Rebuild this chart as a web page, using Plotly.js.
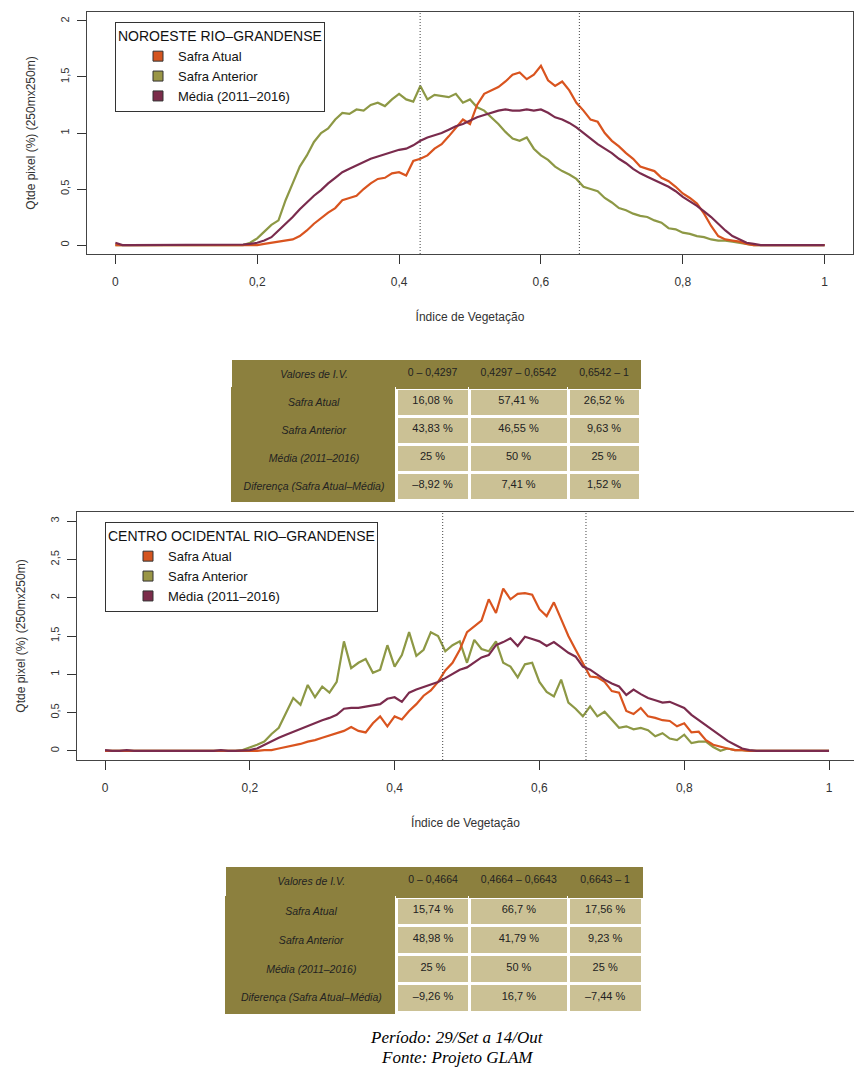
<!DOCTYPE html>
<html>
<head>
<meta charset="utf-8">
<script src="https://cdn.plot.ly/plotly-3.0.1.min.js"></script>
<style>html,body{margin:0;padding:0;background:#fff;}#chart{width:854px;height:1070px;}</style>
</head>
<body>
<div id="chart"></div>
<script>
// ---------- DATA ----------
// Vegetation index bins (0.00 .. 1.00, step 0.01)
const IV = [];
for (let i = 0; i <= 100; i++) IV.push(+(i / 100).toFixed(2));

const seriesNames = ['Safra Atual', 'Safra Anterior', 'Média (2011–2016)'];

// NOROESTE RIO-GRANDENSE
const nwAtual = [
  0,0,0,0,0,0,0,0,0,0,
  0,0,0,0,0,0,0,0,0,0,
  0,0.01,0.02,0.03,0.04,0.05,0.08,0.13,0.19,0.24,
  0.29,0.33,0.40,0.42,0.44,0.50,0.55,0.59,0.60,0.64,
  0.65,0.62,0.75,0.77,0.80,0.86,0.90,0.97,1.04,1.12,
  1.08,1.25,1.35,1.38,1.41,1.46,1.52,1.54,1.48,1.52,
  1.60,1.47,1.42,1.46,1.38,1.27,1.20,1.12,1.10,1.00,
  0.93,0.88,0.82,0.77,0.70,0.68,0.66,0.60,0.57,0.52,
  0.46,0.42,0.37,0.28,0.17,0.08,0.05,0.04,0.03,0.01,
  0,0,0,0,0,0,0,0,0,0,
  0];
const nwAnterior = [
  0,0,0,0,0,0,0,0,0,0,
  0,0,0,0,0,0,0,0,0,0.02,
  0.06,0.12,0.18,0.22,0.40,0.55,0.70,0.80,0.92,1.00,
  1.04,1.12,1.18,1.17,1.21,1.20,1.25,1.27,1.24,1.30,
  1.35,1.30,1.28,1.42,1.30,1.34,1.33,1.32,1.35,1.27,
  1.30,1.23,1.20,1.14,1.08,1.01,0.95,0.93,0.96,0.86,
  0.80,0.76,0.70,0.66,0.63,0.59,0.52,0.50,0.48,0.42,
  0.38,0.33,0.31,0.28,0.26,0.25,0.22,0.20,0.15,0.14,
  0.11,0.10,0.08,0.07,0.05,0.04,0.04,0.03,0.02,0.01,
  0,0,0,0,0,0,0,0,0,0,
  0];
const nwMedia = [
  0.02,0,0,0,0,0,0,0,0,0,
  0,0,0,0,0,0,0,0,0.005,0.01,
  0.02,0.04,0.07,0.13,0.19,0.25,0.32,0.38,0.44,0.49,
  0.55,0.60,0.65,0.68,0.71,0.74,0.77,0.79,0.81,0.83,
  0.85,0.86,0.89,0.93,0.96,0.98,1.00,1.03,1.06,1.08,
  1.11,1.14,1.16,1.18,1.20,1.21,1.20,1.20,1.21,1.20,
  1.21,1.18,1.14,1.12,1.09,1.05,1.00,0.95,0.90,0.86,
  0.82,0.77,0.73,0.68,0.64,0.61,0.58,0.55,0.52,0.48,
  0.43,0.39,0.35,0.30,0.25,0.19,0.13,0.08,0.05,0.02,
  0.01,0,0,0,0,0,0,0,0,0,
  0];
const nwCuts = [0.4297, 0.6542];

// CENTRO OCIDENTAL RIO-GRANDENSE
const coAtual = [
  0,0,0,0,0,0,0,0,0,0,
  0,0,0,0,0,0,0,0,0,0,
  0,0,0.01,0.01,0.03,0.05,0.07,0.09,0.12,0.14,
  0.17,0.20,0.23,0.26,0.31,0.26,0.24,0.36,0.45,0.32,
  0.45,0.41,0.52,0.61,0.72,0.79,0.90,1.05,1.15,1.32,
  1.55,1.62,1.70,1.98,1.80,2.12,1.98,2.05,2.06,2.04,
  1.85,1.76,1.94,1.72,1.50,1.32,1.15,0.97,0.96,0.90,
  0.78,0.76,0.52,0.48,0.56,0.45,0.43,0.40,0.39,0.32,
  0.36,0.24,0.25,0.14,0.08,0.05,0.03,0.01,0.01,0,
  0,0,0,0,0,0,0,0,0,0,
  0];
const coAnterior = [
  0,0,0,0,0,0,0,0,0,0,
  0,0,0,0,0,0,0,0,0,0.01,
  0.04,0.08,0.12,0.22,0.30,0.50,0.69,0.60,0.86,0.70,
  0.84,0.76,0.90,1.43,1.08,1.15,1.20,1.02,1.06,1.38,
  1.10,1.25,1.55,1.24,1.32,1.55,1.50,1.30,1.38,1.43,
  1.15,1.45,1.33,1.30,1.43,1.15,1.10,0.96,1.13,1.15,
  0.90,0.77,0.71,0.93,0.63,0.55,0.45,0.58,0.45,0.51,
  0.40,0.30,0.32,0.28,0.30,0.27,0.19,0.23,0.16,0.14,
  0.21,0.10,0.12,0.12,0.05,0.00,0.03,0.01,0.01,0,
  0,0,0,0,0,0,0,0,0,0,
  0];
const coMedia = [
  0.01,0,0,0.01,0,0,0,0,0,0,
  0,0,0,0,0,0,0.01,0,0,0.005,
  0.01,0.03,0.08,0.12,0.17,0.21,0.25,0.29,0.33,0.37,
  0.40,0.43,0.47,0.55,0.56,0.56,0.58,0.59,0.61,0.68,
  0.70,0.64,0.76,0.80,0.83,0.86,0.90,0.95,1.00,1.06,
  1.09,1.15,1.22,1.25,1.38,1.42,1.47,1.37,1.49,1.46,
  1.43,1.37,1.42,1.35,1.28,1.23,1.10,1.06,0.99,0.93,
  0.88,0.84,0.73,0.80,0.74,0.69,0.66,0.63,0.64,0.60,
  0.56,0.47,0.40,0.33,0.26,0.20,0.13,0.08,0.03,0.01,
  0,0,0,0,0,0,0,0,0,0,
  0];
const coCuts = [0.4664, 0.6643];

// Axis ticks
const xTickVals = [0, 0.2, 0.4, 0.6, 0.8, 1];
const xTickText = ['0', '0,2', '0,4', '0,6', '0,8', '1'];
const y1TickVals = [0, 0.5, 1, 1.5, 2];
const y1TickText = ['0', '0,5', '1', '1,5', '2'];
const y2TickVals = [0, 0.5, 1, 1.5, 2, 2.5, 3];
const y2TickText = ['0', '0,5', '1', '1,5', '2', '2,5', '3'];

// Tables
const tblHeaderLabel = 'Valores de I.V.';
const tblRowLabels = ['Safra Atual', 'Safra Anterior', 'Média (2011–2016)', 'Diferença (Safra Atual–Média)'];
const nwRanges = ['0 – 0,4297', '0,4297 – 0,6542', '0,6542 – 1'];
const nwAtualPct = [16.08, 57.41, 26.52];
const nwAnteriorPct = [43.83, 46.55, 9.63];
const nwMediaPct = [25, 50, 25];
const nwDifPct = [-8.92, 7.41, 1.52];
const coRanges = ['0 – 0,4664', '0,4664 – 0,6643', '0,6643 – 1'];
const coAtualPct = [15.74, 66.7, 17.56];
const coAnteriorPct = [48.98, 41.79, 9.23];
const coMediaPct = [25, 50, 25];
const coDifPct = [-9.26, 16.7, -7.44];

const footerLines = ['Período: 29/Set a 14/Out', 'Fonte: Projeto GLAM'];
const regionTitles = ['NOROESTE RIO–GRANDENSE', 'CENTRO OCIDENTAL RIO–GRANDENSE'];

// ---------- STYLE ----------
const C_ATUAL = '#D9541F';
const C_ANT = '#8D9845';
const C_MEDIA = '#7A2B4D';
const LEG_COLORS = ['#D4541F', '#9A9646', '#7B2C4A'];
const OLIVE = '#8C803E';
const BEIGE = '#CBC195';
const SANS = 'Liberation Sans, Arial, Helvetica, sans-serif';
const NARROW = 'Liberation Sans Narrow, Arial Narrow, Liberation Sans, Arial, sans-serif';
const W = 854, H = 1070;
const px = v => v / W;
const py = v => 1 - v / H;

// ---------- TRACES ----------
function lineTrace(y, color, xa, ya) {
  return { type: 'scatter', mode: 'lines', x: IV, y: y, xaxis: xa, yaxis: ya,
    line: { color: color, width: 2.2 }, showlegend: false, hoverinfo: 'skip' };
}
function legendTrace(name, color, xa, ya, leg) {
  return { type: 'scatter', mode: 'markers', x: [null], y: [null], xaxis: xa, yaxis: ya,
    name: name, legend: leg, showlegend: true,
    marker: { symbol: 'square', size: 10, color: color, line: { color: '#333', width: 1 } } };
}
const fmt = v => (v < 0 ? '–' : '') + String(Math.abs(v)).replace('.', ',') + ' %';

function tableTrace(domX, domY, ranges, rows, colW, hh, ch) {
  const labelCol = tblRowLabels.map(s => '<i>' + s + '</i>');
  const cols = [0, 1, 2].map(j => rows.map(r => fmt(r[j])));
  return {
    type: 'table', domain: { x: domX, y: domY }, columnwidth: colW,
    header: {
      values: [['<i>' + tblHeaderLabel + '</i>'], [ranges[0]], [ranges[1]], [ranges[2]]],
      fill: { color: OLIVE }, line: { color: OLIVE, width: 1 }, align: 'center', height: hh,
      font: { family: SANS, size: [10.5, 10.5, 10.5, 10.5], color: '#222' }
    },
    cells: {
      values: [labelCol].concat(cols),
      fill: { color: [OLIVE, BEIGE, BEIGE, BEIGE] },
      line: { color: [OLIVE, '#ffffff', '#ffffff', '#ffffff'], width: 3 },
      align: 'center', height: ch,
      font: { family: SANS, size: [10.5, 11, 11, 11], color: '#222' }
    }
  };
}

const data = [
  lineTrace(nwAnterior, C_ANT, 'x', 'y'),
  lineTrace(nwAtual, C_ATUAL, 'x', 'y'),
  lineTrace(nwMedia, C_MEDIA, 'x', 'y'),
  lineTrace(coAnterior, C_ANT, 'x2', 'y2'),
  lineTrace(coAtual, C_ATUAL, 'x2', 'y2'),
  lineTrace(coMedia, C_MEDIA, 'x2', 'y2'),
  legendTrace(seriesNames[0], LEG_COLORS[0], 'x', 'y', 'legend'),
  legendTrace(seriesNames[1], LEG_COLORS[1], 'x', 'y', 'legend'),
  legendTrace(seriesNames[2], LEG_COLORS[2], 'x', 'y', 'legend'),
  legendTrace(seriesNames[0], LEG_COLORS[0], 'x2', 'y2', 'legend2'),
  legendTrace(seriesNames[1], LEG_COLORS[1], 'x2', 'y2', 'legend2'),
  legendTrace(seriesNames[2], LEG_COLORS[2], 'x2', 'y2', 'legend2'),
  tableTrace([px(232), px(640)], [py(504), py(360)], nwRanges,
    [nwAtualPct, nwAnteriorPct, nwMediaPct, nwDifPct], [164, 73, 99, 72], 28, 28),
  tableTrace([px(226), px(643)], [py(1016), py(867)], coRanges,
    [coAtualPct, coAnteriorPct, coMediaPct, coDifPct], [169, 72, 98, 73], 30, 28.75)
];

// ---------- LAYOUT ----------
function xAxis(domain, range, anchor) {
  return { domain: domain, range: range, anchor: anchor, tickvals: xTickVals, ticktext: xTickText,
    ticks: 'outside', ticklen: 9, tickwidth: 1, tickcolor: '#333', showline: true, linecolor: '#444',
    linewidth: 1, mirror: true, showgrid: false, zeroline: false, ticklabelstandoff: 8,
    tickfont: { family: NARROW, size: 12, color: '#333' },
    title: { text: 'Índice de Vegetação', font: { family: NARROW, size: 12, color: '#333' }, standoff: 24 } };
}
function yAxis(domain, range, anchor, tv, tt, mirror) {
  return { domain: domain, range: range, anchor: anchor, tickvals: tv, ticktext: tt, tickangle: -90,
    ticks: 'outside', ticklen: 9, tickwidth: 1, tickcolor: '#333', showline: true, linecolor: '#444',
    linewidth: 1, mirror: mirror, showgrid: false, zeroline: false, ticklabelstandoff: 4,
    tickfont: { family: SANS, size: 11, color: '#333' },
    title: { text: 'Qtde pixel (%) (250mx250m)', font: { family: SANS, size: 12, color: '#333' }, standoff: 20 } };
}
function legendCfg(x, y, title) {
  return { x: x, y: y, xanchor: 'left', yanchor: 'top', bgcolor: '#fff', bordercolor: '#333',
    borderwidth: 1, font: { family: SANS, size: 13, color: '#111' }, indentation: 22,
    title: { text: title, side: 'top', font: { family: SANS, size: 14, color: '#111' } },
    itemclick: false, itemdoubleclick: false };
}
const vline = (c, xr) => ({ type: 'line', xref: xr, yref: xr.replace('x', 'y') + ' domain', x0: c, x1: c, y0: 0, y1: 1,
  line: { color: '#444', width: 1, dash: '1px,2px' } });

const layout = {
  width: W, height: H, margin: { l: 0, r: 0, t: 0, b: 0 },
  paper_bgcolor: '#fff', plot_bgcolor: '#fff', showlegend: true,
  xaxis: xAxis([px(87), px(853)], [-0.04, 1.04], 'y'),
  yaxis: yAxis([py(254), py(12)], [-0.08, 2.08], 'x', y1TickVals, y1TickText, true),
  xaxis2: xAxis([px(77), 1], [-0.0387, 1.0345], 'y2'),
  yaxis2: yAxis([py(760), py(512)], [-0.12, 3.12], 'x2', y2TickVals, y2TickText, false),
  legend: legendCfg(px(115), py(22), regionTitles[0]),
  legend2: legendCfg(px(105), py(522), regionTitles[1]),
  shapes: nwCuts.map(c => vline(c, 'x')).concat(coCuts.map(c => vline(c, 'x2'))),
  annotations: footerLines.map((t, i) => ({
    xref: 'paper', yref: 'paper', x: px(457), y: py(1037 + 20 * i), xanchor: 'center', yanchor: 'middle',
    text: '<i>' + t + '</i>', showarrow: false,
    font: { family: 'Liberation Serif, Times New Roman, serif', size: 17, color: '#000' } }))
};

Plotly.newPlot('chart', data, layout, { displayModeBar: false, staticPlot: true });
</script>
</body>
</html>
